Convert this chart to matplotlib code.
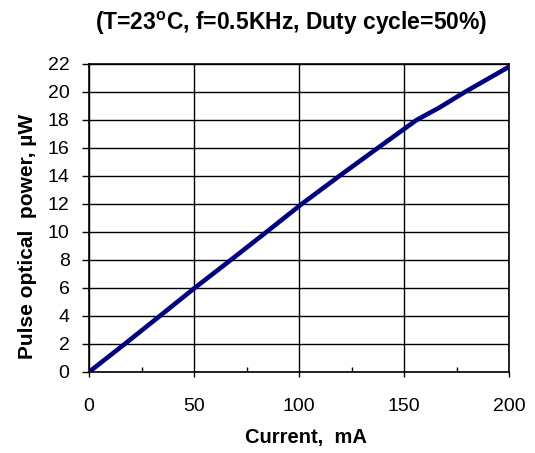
import matplotlib
matplotlib.use("Agg")
import matplotlib.pyplot as plt
from matplotlib.ticker import MultipleLocator

plt.rcParams["font.family"] = ["Liberation Sans", "DejaVu Sans"]
plt.rcParams["mathtext.fontset"] = "custom"
plt.rcParams["mathtext.rm"] = "Liberation Sans:bold"

# current (mA) vs pulse optical power (uW)
current_ma = [0, 17, 33.7, 50.3, 67.5, 84.5, 101.3, 119.2, 137.5, 156, 167, 179, 200]
power_uw = [0, 2, 4, 6, 8, 10, 12, 14, 16, 18, 18.9, 20, 21.8]

x_ticks = [0, 50, 100, 150, 200]
y_ticks = list(range(0, 23, 2))

W, H = 535, 453
fig = plt.figure(figsize=(W / 100, H / 100), dpi=100)
ax = fig.add_axes([89 / W, 1 - 372 / H, 420 / W, 308 / H])

ax.plot(current_ma, power_uw, color="#000080", lw=3.3, solid_capstyle="butt", zorder=3)

ax.set_xlim(0, 200)
ax.set_ylim(0, 22)
ax.set_xticks(x_ticks)
ax.set_yticks(y_ticks)
ax.xaxis.set_minor_locator(MultipleLocator(25))

ax.grid(True, which="major", color="black", lw=1.0)
ax.set_axisbelow(True)
for s in ax.spines.values():
    s.set_linewidth(1.2)
    s.set_color("black")

ax.tick_params(axis="y", which="major", direction="out", length=5, width=1.0,
               labelsize=14, pad=9)
ax.tick_params(axis="x", which="major", direction="out", length=3.6, width=1.0,
               labelsize=14, pad=15)
ax.tick_params(axis="x", which="minor", direction="in", length=3.6, width=1.0)

fig.text(291 / W, 1 - 23 / H, "(T=23$^{\\rm o}$C, f=0.5KHz, Duty cycle=50%)",
         ha="center", va="center", fontsize=16.5, fontweight="bold")
fig.text(306 / W, 1 - 438 / H, "Current,  mA", ha="center", va="center",
         fontsize=14.5, fontweight="bold")
fig.text(28 / W, 1 - 236 / H, "Pulse optical  power, \u00b5W", ha="center", va="center",
         rotation=90, fontsize=15, fontweight="bold")

fig.savefig("out.png", dpi=100)
